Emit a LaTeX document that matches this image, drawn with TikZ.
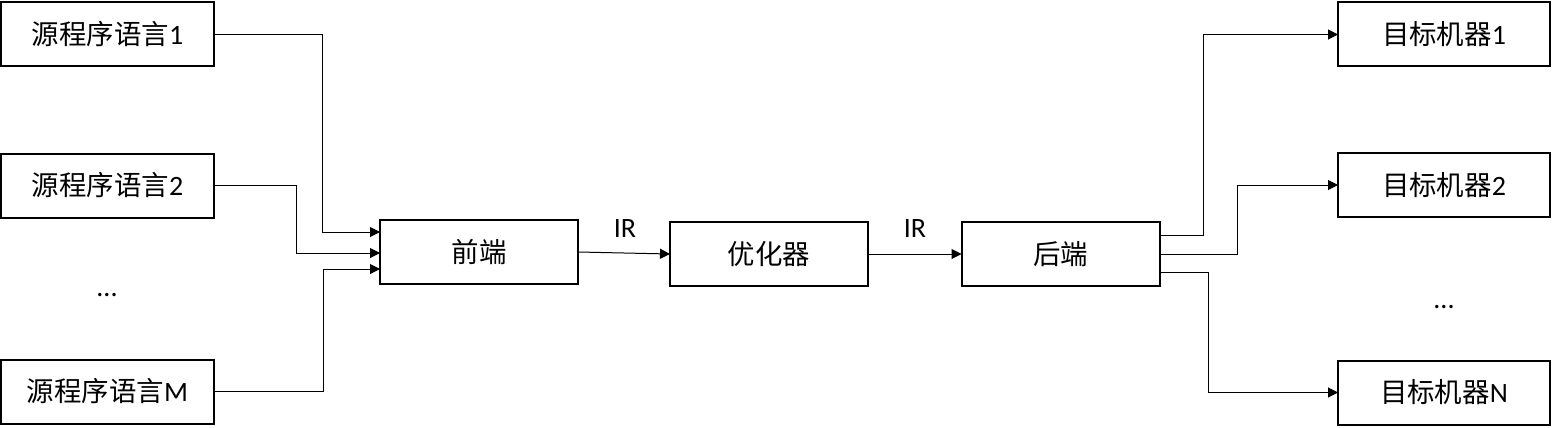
\documentclass[tikz,border=0pt]{standalone}
\usepackage{fontspec}
\setmainfont{Carlito}
\newfontfamily\cjk[Scale=0.98]{Noto Sans CJK SC}
\usetikzlibrary{arrows.meta,calc}
\begin{document}
\begin{tikzpicture}[x=1pt,y=-1pt,
  box/.style={draw,line width=2pt,rectangle,inner sep=0pt,outer sep=0pt,
    minimum width=#1,minimum height=64pt,font=\fontsize{28}{32}\selectfont},
  box/.default=198pt,
  arr/.style={line width=1pt,-{Triangle[length=10pt,width=10pt]}},
  lbl/.style={font=\fontsize{28}{32}\selectfont,inner sep=0pt}]
\useasboundingbox (0,0) rectangle (1552,428);
% left sources
\node[box=213pt] (s1) at (107.5,34.5) {{\cjk 源程序语言}1};
\node[box=213pt] (s2) at (107.5,185.5) {{\cjk 源程序语言}2};
\node[box=213pt] (sM) at (107.5,391.5) {{\cjk 源程序语言}M};
\node[lbl,anchor=base] (d1) at (107,296) {...};
% middle
\node[box] (fe) at (479,252) {\cjk 前端};
\node[box] (opt) at (769,254) {\cjk 优化器};
\node[box] (be) at (1060.5,254) {\cjk 后端};
\node[lbl] (ir1) at (625,229) {IR};
\node[lbl] (ir2) at (915,229) {IR};
% right targets
\node[box=212pt] (t1) at (1444,34.5) {{\cjk 目标机器}1};
\node[box=212pt] (t2) at (1444,185) {{\cjk 目标机器}2};
\node[box=212pt] (tN) at (1444,392.5) {{\cjk 目标机器}N};
\node[lbl,anchor=base] (d2) at (1444,308) {...};
% connectors in
\draw[arr] (s1.east) -- ++(108,0) |- ($(fe.west)+(0,-20)$);
\draw[arr] (s2.east) -- ++(82,0) |- ($(fe.west)+(0,1)$);
\draw[arr] (sM.east) -- ++(109,0) |- ($(fe.west)+(0,17)$);
% pipeline
\draw[arr] (fe.east) -- (opt.west);
\draw[arr] (opt.east) -- (be.west);
% connectors out
\draw[arr] ($(be.east)+(0,-19)$) -- ++(44,0) |- (t1.west);
\draw[arr] (be.east) -- ++(78,0) |- (t2.west);
\draw[arr] ($(be.east)+(0,18)$) -- ++(49,0) |- (tN.west);
\end{tikzpicture}
\end{document}
